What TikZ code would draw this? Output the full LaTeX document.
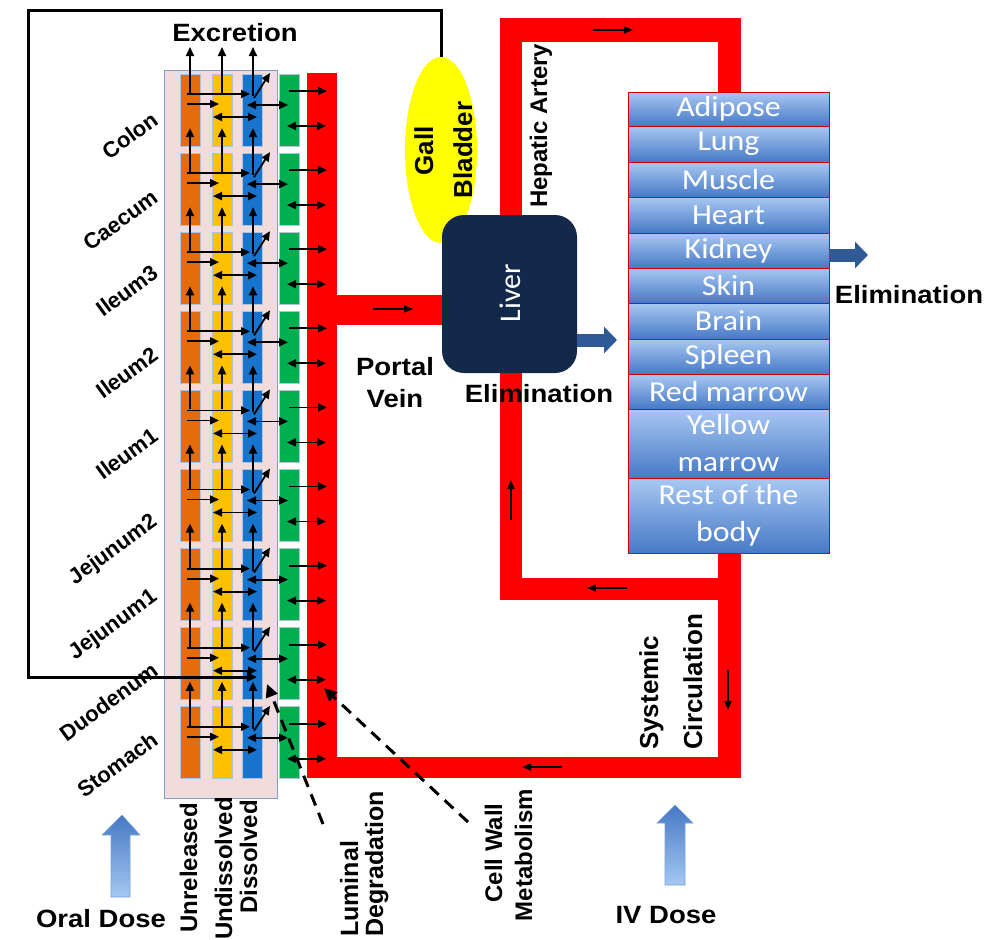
\documentclass[tikz,border=0pt]{standalone}
\usepackage{fontspec}
\setmainfont{Liberation Sans}
\newfontfamily\lab{Liberation Sans}[FakeStretch=1.1]
\newfontfamily\orgfont{Carlito}[FakeStretch=1.1]
\newfontfamily\livfont{Carlito}
\usetikzlibrary{arrows.meta,shapes.geometric}
\definecolor{gorange}{HTML}{E46C0A}
\definecolor{gyellow}{HTML}{FFC000}
\definecolor{gblue}{HTML}{1874CD}
\definecolor{ggreen}{HTML}{00B050}
\definecolor{bred}{HTML}{FF0000}
\definecolor{pinkfill}{HTML}{F2DCDB}
\definecolor{pinkline}{HTML}{7F9FCF}
\definecolor{segedge}{HTML}{AFC3DC}
\definecolor{livercol}{HTML}{12294A}
\definecolor{elimcol}{HTML}{2F5A96}
\definecolor{orgtop}{HTML}{A8C8F2}
\definecolor{orgbot}{HTML}{4679C6}
\definecolor{dosetop}{HTML}{4678C4}
\definecolor{dosebot}{HTML}{A3C8F2}
\definecolor{gallcol}{HTML}{FFFF00}
\tikzset{
 gi/.style={line width=1.8pt, -{Triangle[length=9pt,width=8pt]}},
 gid/.style={line width=1.8pt, {Triangle[length=9pt,width=8pt]}-{Triangle[length=9pt,width=8pt]}},
 flow/.style={line width=1.6pt, -{Triangle[length=9pt,width=7pt]}},
 hlab/.style={font=\lab\bfseries\fontsize{25}{30}\selectfont, inner sep=0pt, anchor=base},
 vlab/.style={font=\bfseries\fontsize{25}{30}\selectfont, inner sep=0pt, rotate=90},
 seglab/.style={font=\bfseries\fontsize{22}{26}\selectfont, inner sep=0pt, rotate=36, anchor=east},
 organ/.style={draw=red!80!black, line width=0.8pt, top color=orgtop, bottom color=orgbot, minimum width=201pt, inner sep=0pt, text=white, font=\orgfont\fontsize{29}{37}\selectfont, align=center},
 dashlink/.style={line width=3pt, dash pattern=on 12pt off 8pt, -{Triangle[length=13pt,width=12pt]}},
 elimarrow/.style={elimcol, line width=13pt, -{Triangle[length=13pt,width=26pt]}},
 dose/.style={top color=dosetop, bottom color=dosebot, draw=dosetop!70!white, line width=0.6pt},
}
\begin{document}
\begin{tikzpicture}[x=1pt,y=-1pt]
\useasboundingbox (0,0) rectangle (991,940);
\fill[white] (0,0) rectangle (991,940);

% GI lumen box
\path[fill=pinkfill, draw=pinkline, line width=1pt] (164,70) rectangle (277,798);
\node[inner sep=0pt] (lumen) at (220.5,434) {};

% segment blocks
\foreach \i in {0,...,8}{
  \pgfmathsetmacro{\ty}{74+79.1*\i}
  \foreach \xa/\col in {180/gorange,212/gyellow,242/gblue,279/ggreen}{
    \path[fill=\col, draw=segedge, line width=0.8pt] (\xa,\ty) rectangle ++(20,72);
  }
}

% blood vessels
\fill[bred] (307,73) rectangle (337,778);
\fill[bred] (337,295) rectangle (442,325);
\fill[bred] (337,757) rectangle (741,778);
\fill[bred] (718,18) rectangle (741,778);
\fill[bred] (500,18) rectangle (741,42);
\fill[bred] (500,18) rectangle (522,600);
\fill[bred] (500,578) rectangle (741,600);

% flow arrows on vessels
\draw[flow] (373,309) -- (413,309);
\draw[flow] (593,30) -- (633,30);
\draw[flow] (511,520) -- (511,480);
\draw[flow] (627,588) -- (587,588);
\draw[flow] (728,670) -- (728,710);
\draw[flow] (562,767) -- (522,767);

% GI arrows
\foreach \i in {0,...,8}{
  \pgfmathsetmacro{\ty}{74+79.1*\i}
  \pgfmathsetmacro{\tp}{ifthenelse(\i==0,47,\ty-25)}
  \draw[gi] (190,\ty+19) -- (190,\tp);
  \draw[gi] (222,\ty+19) -- (222,\tp);
  \draw[gi] (253,\ty+22) -- (253,\tp);
  \draw[gi] (187,\ty+20) -- (250,\ty+20);
  \draw[gi] (187,\ty+30) -- (219,\ty+30);
  \draw[gid] (213,\ty+43) -- (257,\ty+43);
  \draw[gid] (247,\ty+31) -- (288,\ty+31);
  \draw[gi] (254,\ty+24) -- (270,\ty-1);
  \draw[gi] (289,\ty+17) -- (327,\ty+17);
  \draw[gid] (287,\ty+52) -- (326,\ty+52);
}

% gall bladder, bile loop
\node[ellipse, fill=gallcol, minimum width=72pt, minimum height=186pt, inner sep=0pt] (gall) at (441,150) {};
\draw[line width=3pt, -{Triangle[length=10pt,width=9pt]}] (gall.north) -- ++(0,-46) -| (28,677) -- (257,677);
\node[vlab, anchor=base, font=\bfseries\fontsize{26}{30}\selectfont] (gallt) at (433,151) {Gall};
\node[vlab, anchor=base, font=\bfseries\fontsize{26}{30}\selectfont] (bladt) at (472,150) {Bladder};

% liver
\node[fill=livercol, rounded corners=22pt, minimum width=135pt, minimum height=158pt, inner sep=0pt] (liver) at (509.5,294) {};
\node[rotate=90, anchor=base, text=white, inner sep=0pt, font=\livfont\fontsize{30}{36}\selectfont] (livert) at (520,293) {Liver};

% organs
\node[organ, minimum height=34pt] (adipose) at (728.5,109) {Adipose};
\node[organ, minimum height=36pt] (lung) at (728.5,144) {Lung};
\node[organ, minimum height=35pt] (muscle) at (728.5,179.5) {Muscle};
\node[organ, minimum height=36pt] (heart) at (728.5,215) {Heart};
\node[organ, minimum height=35pt] (kidney) at (728.5,250.5) {Kidney};
\node[organ, minimum height=35pt] (skin) at (728.5,285.5) {Skin};
\node[organ, minimum height=36pt] (brain) at (728.5,321) {Brain};
\node[organ, minimum height=35pt] (spleen) at (728.5,356.5) {Spleen};
\node[organ, minimum height=35pt] (redm) at (728.5,391.5) {Red marrow};
\node[organ, minimum height=69pt] (yelm) at (728.5,443.5) {Yellow\\marrow};
\node[organ, minimum height=75pt] (rest) at (728.5,515.5) {Rest of the\\body};

% elimination arrows
\coordinate (le1) at (577,340);
\coordinate (le2) at (617,340);
\draw[elimarrow] (le1) -- (le2);
\coordinate (ke1) at (829,255);
\coordinate (ke2) at (868,255);
\draw[elimarrow] (ke1) -- (ke2);

% dose arrows
\path[dose] (111,897) -- (111,835) -- (102,835) -- (122,815) -- (140,835) -- (130,835) -- (130,897) -- cycle;
\path[dose] (665,885) -- (665,823) -- (657,823) -- (675,805) -- (693,823) -- (685,823) -- (685,885) -- cycle;

% dashed links
\coordinate (ld1) at (323,824);
\coordinate (ld2) at (267,684);
\draw[dashlink] (ld1) -- (ld2);
\coordinate (cw1) at (468,822);
\coordinate (cw2) at (324,688);
\draw[dashlink] (cw1) -- (cw2);

% horizontal labels
\node[hlab] (excr) at (235,41) {Excretion};
\node[hlab] (portal) at (395,375) {Portal};
\node[hlab] (vein) at (395,407) {Vein};
\node[hlab] (elim1) at (539,402) {Elimination};
\node[hlab] (elim2) at (909,303) {Elimination};
\node[hlab] (oral) at (101,927) {Oral Dose};
\node[hlab] (iv) at (666,923) {IV Dose};

% vertical labels
\node[vlab, anchor=base west, font=\bfseries\fontsize{24}{30}\selectfont] (hep) at (547,208) {Hepatic Artery};
\node[vlab, anchor=base west, font=\bfseries\fontsize{26}{30}\selectfont] (sys1) at (658,750) {Systemic};
\node[vlab, anchor=base west, font=\bfseries\fontsize{26}{30}\selectfont] (sys2) at (702,750) {Circulation};
\node[vlab, anchor=base east, font=\bfseries\fontsize{24}{30}\selectfont] (unrel) at (197,803) {Unreleased};
\node[vlab, anchor=base east, font=\bfseries\fontsize{24}{30}\selectfont] (undis) at (232,797) {Undissolved};
\node[vlab, anchor=base east, font=\bfseries\fontsize{24}{30}\selectfont] (dis) at (257,800) {Dissolved};
\node[vlab, anchor=base west, font=\bfseries\fontsize{25}{30}\selectfont] (lum1) at (358,937) {Luminal};
\node[vlab, anchor=base west, font=\bfseries\fontsize{25}{30}\selectfont] (lum2) at (383,937) {Degradation};
\node[vlab, anchor=base, font=\bfseries\fontsize{24}{30}\selectfont] (cw1t) at (502,853) {Cell Wall};
\node[vlab, anchor=base, font=\bfseries\fontsize{24}{30}\selectfont] (cw2t) at (532,855) {Metabolism};

% segment labels
\node[seglab] (colon) at (155,117) {Colon};
\node[seglab] (caecum) at (155,195) {Caecum};
\node[seglab] (ileum3) at (155,270) {Ileum3};
\node[seglab] (ileum2) at (155,352) {Ileum2};
\node[seglab] (ileum1) at (155,433) {Ileum1};
\node[seglab] (jej2) at (155,520) {Jejunum2};
\node[seglab] (jej1) at (155,595) {Jejunum1};
\node[seglab] (duod) at (155,668) {Duodenum};
\node[seglab] (stom) at (155,737) {Stomach};
\end{tikzpicture}
\end{document}
